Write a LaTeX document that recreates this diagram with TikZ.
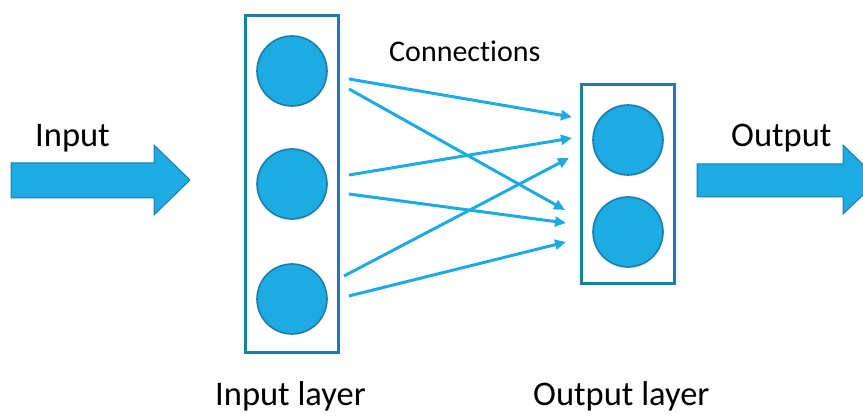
\documentclass[tikz,border=0pt]{standalone}
\usepackage{fontspec}
\setmainfont[Ligatures=NoCommon]{Carlito}
\usepackage{tikz}
\usetikzlibrary{calc}
\usetikzlibrary{arrows.meta}
\definecolor{nnblue}{HTML}{1EABE3}
\definecolor{nnedge}{HTML}{1B7EA6}
\tikzset{neuron/.style={circle, minimum size=70pt, inner sep=0pt, fill=nnblue, draw=nnedge, line width=1.6pt}}
\tikzset{layer/.style={draw=nnedge, line width=3pt}}
\tikzset{conn/.style={draw=nnblue, line width=3pt, -{Triangle[length=11pt, width=10pt]}}}
\tikzset{bigarrow/.style={fill=nnblue, draw=nnedge, line width=1pt}}
\tikzset{lbl/.style={font=\fontsize{34.5}{40}\selectfont, inner sep=0pt, anchor=base west}}

\begin{document}
\begin{tikzpicture}[x=1pt, y=-1pt]
  \useasboundingbox (0, 0) rectangle (863, 417);
  \clip (0, 0) rectangle (863, 417);

  % in and out
  \draw[bigarrow] (11, 163) -- (154, 163) -- (154, 145) -- (190, 180)
    -- (154, 215) -- (154, 198) -- (11, 198) -- cycle;
  \draw[bigarrow] (697, 164) -- (843, 164) -- (843, 145) -- (879, 180)
    -- (843, 214) -- (843, 197) -- (697, 197) -- cycle;
  \node[lbl] at (35, 147) (input) {Input};
  \node[lbl] at (731, 147) (output) {Output};

  % layers
  \draw[layer] (245, 16) rectangle (338, 352);
  \draw[layer] (581, 85) rectangle (674, 283);
  \node[neuron] at (292, 71) (in1) {};
  \node[neuron] at (292, 184) (in2) {};
  \node[neuron] at (292, 299) (in3) {};
  \node[neuron] at (628, 140) (out1) {};
  \node[neuron] at (628, 232) (out2) {};
  \node[lbl] at (215, 405) (inlayer) {Input layer};
  \node[lbl] at (533, 405) (outlayer) {Output layer};

  % connections
  \node[lbl, font=\fontsize{30}{36}\selectfont] at (389, 62) (conns) {Connections};
  \draw[conn] ($(in1)+(57, 8)$) -- ($(out1)+(-56, -23)$);
  \draw[conn] ($(in1)+(57, 18)$) -- ($(out2)+(-63, -22)$);
  \draw[conn] ($(in2)+(57, -9)$) -- ($(out1)+(-56, -2)$);
  \draw[conn] ($(in2)+(57, 10)$) -- ($(out2)+(-62, -9)$);
  \draw[conn] ($(in3)+(52, -23)$) -- ($(out1)+(-59, 18)$);
  \draw[conn] ($(in3)+(57, -3)$) -- ($(out2)+(-62, 10)$);
\end{tikzpicture}
\end{document}
